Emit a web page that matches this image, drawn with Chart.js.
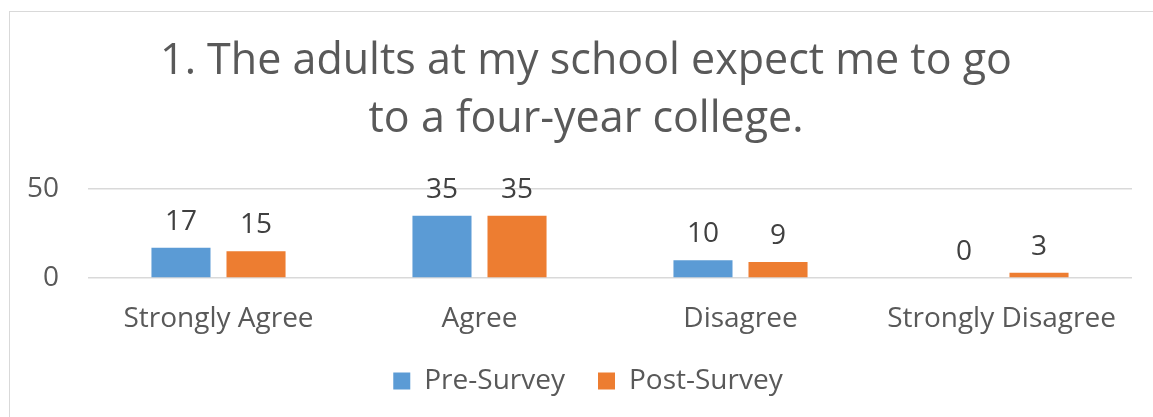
<!DOCTYPE html>
<html>
<head>
<meta charset="utf-8">
<script src="https://cdn.jsdelivr.net/npm/chart.js@4.4.1/dist/chart.umd.min.js"></script>
<style>
  html, body { margin: 0; padding: 0; background: #ffffff; overflow: hidden; }
  #frame {
    position: absolute; left: 9px; top: 11px;
    width: 1200px; height: 500px;
    border: 1px solid #d9d9d9;
    box-sizing: border-box;
  }
  #chart { position: absolute; left: 0; top: 0; }
</style>
</head>
<body>
<div id="frame">
  <canvas id="chart" width="1143" height="405"></canvas>
</div>
<script>
// ==========================================
// DATA
// ==========================================
const chartTitle = ['1. The adults at my school expect me to go', 'to a four-year college.'];
const categories = ['Strongly Agree', 'Agree', 'Disagree', 'Strongly Disagree'];
const preSurvey  = [17, 35, 10, 0];
const postSurvey = [15, 35, 9, 3];
const yTicks     = [0, 50];

const fontFamily = '"Open Sans", "Noto Sans", sans-serif';
const textGray   = '#595959';

// ==========================================
// VALUE LABELS ABOVE BARS
// ==========================================
const valueLabels = {
    id: 'valueLabels',
    afterDatasetsDraw(chart) {
        const ctx = chart.ctx;
        ctx.save();
        ctx.font = '28px ' + fontFamily;
        ctx.fillStyle = '#404040';
        ctx.textAlign = 'center';
        ctx.textBaseline = 'alphabetic';
        chart.data.datasets.forEach((ds, i) => {
            chart.getDatasetMeta(i).data.forEach((bar, j) => {
                ctx.fillText(String(ds.data[j]), bar.x, bar.y - 18);
            });
        });
        ctx.restore();
    }
};

// the original chart frame is wider than the picture, so title and legend
// sit a bit right of the visible centre
const shiftBlocks = {
    id: 'shiftBlocks',
    afterLayout(chart) {
        chart.titleBlock.left += 15;
        chart.titleBlock.right += 15;
        chart.legend.left += 17;
        chart.legend.right += 17;
    }
};

new Chart(document.getElementById('chart'), {
    type: 'bar',
    data: {
        labels: categories,
        datasets: [
            { label: 'Pre-Survey',  data: preSurvey,  backgroundColor: '#5b9bd5' },
            { label: 'Post-Survey', data: postSurvey, backgroundColor: '#ed7d31' }
        ]
    },
    options: {
        responsive: false,
        animation: false,
        categoryPercentage: 0.575,
        barPercentage: 0.787,
        layout: { padding: { left: 0, right: 21, top: 0, bottom: 12 } },
        plugins: {
            title: {
                display: true,
                text: chartTitle,
                color: textGray,
                font: { family: fontFamily, size: 43, weight: 'normal', lineHeight: 1.34 },
                padding: { top: 21, bottom: 41 }
            },
            legend: {
                position: 'bottom',
                labels: {
                    color: textGray,
                    font: { family: fontFamily, size: 28 },
                    boxWidth: 17,
                    boxHeight: 17,
                    padding: 33
                }
            },
            tooltip: { enabled: false }
        },
        scales: {
            x: {
                grid: { display: false },
                border: { display: false },
                afterFit(scale) { scale.height = 56; },
                ticks: {
                    color: textGray,
                    font: { family: fontFamily, size: 28 },
                    padding: 16,
                    maxRotation: 0
                }
            },
            y: {
                min: yTicks[0],
                max: yTicks[yTicks.length - 1],
                afterBuildTicks(scale) {
                    scale.ticks = yTicks.map(v => ({ value: v }));
                },
                afterFit(scale) { scale.width = 78; },
                grid: { color: '#d9d9d9', lineWidth: 1.5, drawTicks: false },
                border: { display: false },
                ticks: {
                    color: textGray,
                    font: { family: fontFamily, size: 28 },
                    padding: 29
                }
            }
        }
    },
    plugins: [valueLabels, shiftBlocks]
});
</script>
</body>
</html>
